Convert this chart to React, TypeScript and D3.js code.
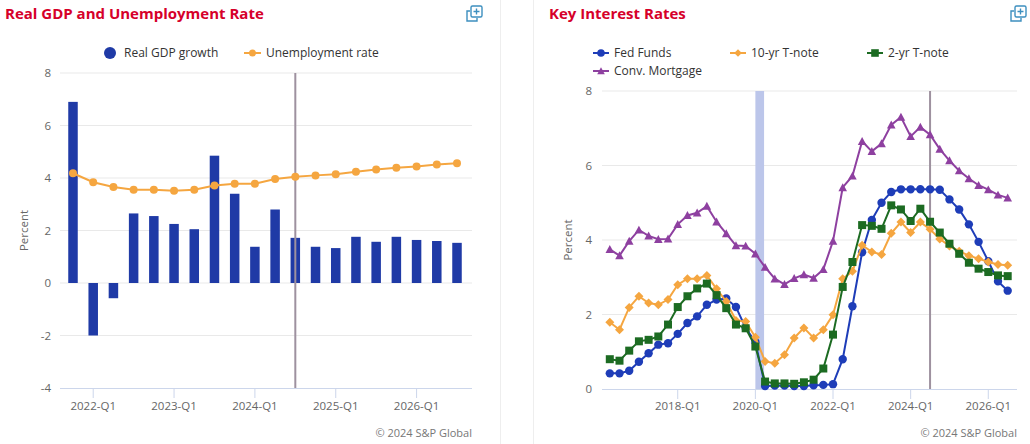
import React from "react";
import * as d3 from "d3";

// ---------- Left chart data ----------
const gdpQuarters = [
  "2021-Q4", "2022-Q1", "2022-Q2", "2022-Q3", "2022-Q4",
  "2023-Q1", "2023-Q2", "2023-Q3", "2023-Q4",
  "2024-Q1", "2024-Q2", "2024-Q3", "2024-Q4",
  "2025-Q1", "2025-Q2", "2025-Q3", "2025-Q4",
  "2026-Q1", "2026-Q2", "2026-Q3",
];
const gdpGrowth = [6.9, -2.0, -0.58, 2.65, 2.55, 2.25, 2.05, 4.85, 3.4, 1.38, 2.8, 1.72, 1.38, 1.33, 1.76, 1.57, 1.76, 1.64, 1.6, 1.53];
const unemployment = [4.18, 3.84, 3.66, 3.55, 3.55, 3.51, 3.55, 3.71, 3.78, 3.78, 3.96, 4.05, 4.1, 4.14, 4.24, 4.32, 4.39, 4.44, 4.51, 4.56];
const gdpTickLabels = ["2022-Q1", "2023-Q1", "2024-Q1", "2025-Q1", "2026-Q1"];
const gdpYTicks = [-4, -2, 0, 2, 4, 6, 8];
const gdpForecastStart = "2024-Q3";

// ---------- Right chart data ----------
const rateQuarters = [
  "2016-Q2", "2016-Q3", "2016-Q4",
  "2017-Q1", "2017-Q2", "2017-Q3", "2017-Q4",
  "2018-Q1", "2018-Q2", "2018-Q3", "2018-Q4",
  "2019-Q1", "2019-Q2", "2019-Q3", "2019-Q4",
  "2020-Q1", "2020-Q2", "2020-Q3", "2020-Q4",
  "2021-Q1", "2021-Q2", "2021-Q3", "2021-Q4",
  "2022-Q1", "2022-Q2", "2022-Q3", "2022-Q4",
  "2023-Q1", "2023-Q2", "2023-Q3", "2023-Q4",
  "2024-Q1", "2024-Q2", "2024-Q3", "2024-Q4",
  "2025-Q1", "2025-Q2", "2025-Q3", "2025-Q4",
  "2026-Q1", "2026-Q2", "2026-Q3",
];
const fedFunds = [0.42, 0.42, 0.49, 0.73, 0.96, 1.19, 1.23, 1.48, 1.77, 1.95, 2.26, 2.4, 2.43, 2.2, 1.64, 1.26, 0.08, 0.09, 0.09, 0.08, 0.08, 0.1, 0.11, 0.13, 0.8, 2.22, 3.67, 4.54, 5.0, 5.29, 5.36, 5.36, 5.36, 5.36, 5.35, 5.09, 4.82, 4.42, 3.95, 3.43, 2.89, 2.64];
const tenYear = [1.79, 1.59, 2.19, 2.49, 2.31, 2.26, 2.4, 2.8, 2.96, 2.96, 3.05, 2.69, 2.35, 1.84, 1.81, 1.39, 0.74, 0.69, 0.92, 1.37, 1.64, 1.37, 1.59, 1.99, 2.96, 3.16, 3.86, 3.68, 3.61, 4.18, 4.48, 4.2, 4.48, 4.29, 4.03, 3.84, 3.7, 3.58, 3.5, 3.41, 3.34, 3.32];
const twoYear = [0.8, 0.76, 1.03, 1.28, 1.32, 1.41, 1.73, 2.2, 2.49, 2.7, 2.83, 2.52, 2.17, 1.73, 1.63, 1.14, 0.2, 0.15, 0.15, 0.14, 0.18, 0.25, 0.55, 1.46, 2.74, 3.41, 4.4, 4.38, 4.3, 4.93, 4.82, 4.51, 4.84, 4.49, 4.2, 3.9, 3.63, 3.39, 3.23, 3.14, 3.05, 3.03];
const mortgage = [3.75, 3.58, 3.97, 4.27, 4.11, 4.02, 4.03, 4.42, 4.66, 4.73, 4.91, 4.49, 4.17, 3.85, 3.84, 3.63, 3.27, 2.96, 2.81, 2.97, 3.07, 2.98, 3.21, 3.97, 5.41, 5.72, 6.65, 6.38, 6.59, 7.09, 7.3, 6.78, 7.03, 6.83, 6.44, 6.13, 5.86, 5.65, 5.47, 5.35, 5.21, 5.13];
const rateTickLabels = ["2018-Q1", "2020-Q1", "2022-Q1", "2024-Q1", "2026-Q1"];
const rateYTicks = [0, 2, 4, 6, 8];
const recessionStart = "2020-Q1";
const recessionEnd = "2020-Q2";
const rateForecastStart = "2024-Q3";

// ---------- Style ----------
const FONT = "'Open Sans', 'Noto Sans', sans-serif";
const RED = "#d6002a";
const BAR_BLUE = "#1f3aa6";
const ORANGE = "#f5a640";
const FED_BLUE = "#1e3db8";
const GREEN = "#1c6b22";
const PURPLE = "#8e40a0";
const GRID = "#e9e9e9";
const AXIS = "#ccd6eb";
const LABEL = "#666666";
const VLINE = "#9e919f";

type Marker = "circle" | "diamond" | "square" | "triangle";

function markerPath(kind: Marker, cx: number, cy: number, r: number): string {
  if (kind === "circle") {
    const p = d3.path();
    p.arc(cx, cy, r, 0, Math.PI * 2);
    return p.toString();
  }
  if (kind === "square") {
    return `M${cx - r},${cy - r}h${2 * r}v${2 * r}h${-2 * r}Z`;
  }
  if (kind === "diamond") {
    return `M${cx},${cy - r}L${cx + r},${cy}L${cx},${cy + r}L${cx - r},${cy}Z`;
  }
  return `M${cx},${cy - r}L${cx + r},${cy + r * 0.85}L${cx - r},${cy + r * 0.85}Z`;
}

function ExpandIcon({ x, y }: { x: number; y: number }) {
  const c = "#3d8fbf";
  return (
    <g fill="none" stroke={c} strokeWidth={1.4}>
      <path d={`M${x + 3},${y + 6} H${x} V${y + 16} H${x + 10} V${y + 13}`} />
      <rect x={x + 4} y={y + 1} width={11} height={11} rx={1.5} />
      <path d={`M${x + 9.5},${y + 3.5} V${y + 9.5} M${x + 6.5},${y + 6.5} H${x + 12.5}`} />
    </g>
  );
}

function GdpChart() {
  const left = 60, right = 472, top = 73, bottom = 388;
  const x = d3.scalePoint<string>().domain(gdpQuarters).range([73, 457]);
  const y = d3.scaleLinear().domain([-4, 8]).range([bottom, top]);
  const barW = 9.5;
  const line = d3
    .line<number>()
    .x((_, i) => x(gdpQuarters[i])!)
    .y((d) => y(d));
  const fx = x(gdpForecastStart)!;
  return (
    <g fontFamily={FONT}>
      <text x={5} y={19} fontSize={15} fontWeight={700} fill={RED}>
        Real GDP and Unemployment Rate
      </text>
      <ExpandIcon x={467} y={5} />
      {/* legend */}
      <circle cx={110} cy={53} r={6} fill={BAR_BLUE} />
      <text x={124} y={57} fontSize={12} fill="#333">Real GDP growth</text>
      <line x1={244} x2={261} y1={53} y2={53} stroke={ORANGE} strokeWidth={2} />
      <circle cx={252.5} cy={53} r={3.5} fill={ORANGE} />
      <text x={266} y={57} fontSize={12} fill="#333">Unemployment rate</text>
      {/* grid */}
      {gdpYTicks.map((t) => (
        <g key={t}>
          {t !== -4 && (
            <line x1={left} x2={right} y1={y(t)} y2={y(t)} stroke={GRID} strokeWidth={1} />
          )}
          <text x={51} y={y(t) + 4} fontSize={11.5} fill={LABEL} textAnchor="end">
            {t}
          </text>
        </g>
      ))}
      <text
        transform={`translate(28,${(top + bottom) / 2}) rotate(-90)`}
        fontSize={11.5}
        fill={LABEL}
        textAnchor="middle"
      >
        Percent
      </text>
      {/* x axis */}
      <line x1={left} x2={right} y1={bottom + 0.5} y2={bottom + 0.5} stroke={AXIS} strokeWidth={1} />
      {gdpTickLabels.map((lab) => (
        <g key={lab}>
          <line x1={x(lab)} x2={x(lab)} y1={bottom} y2={bottom + 10} stroke={AXIS} strokeWidth={1} />
          <text x={x(lab)} y={410} fontSize={11.5} fill={LABEL} textAnchor="middle">
            {lab}
          </text>
        </g>
      ))}
      {/* bars */}
      {gdpGrowth.map((v, i) => {
        const cx = x(gdpQuarters[i])!;
        const y0 = y(0), y1 = y(v);
        return (
          <rect
            key={i}
            x={cx - barW / 2}
            y={Math.min(y0, y1)}
            width={barW}
            height={Math.abs(y1 - y0)}
            fill={BAR_BLUE}
          />
        );
      })}
      {/* forecast line */}
      <line x1={fx} x2={fx} y1={top} y2={bottom} stroke={VLINE} strokeWidth={2} />
      {/* unemployment */}
      <path d={line(unemployment) || ""} fill="none" stroke={ORANGE} strokeWidth={2} />
      {unemployment.map((v, i) => (
        <circle key={i} cx={x(gdpQuarters[i])} cy={y(v)} r={4} fill={ORANGE} />
      ))}
      <text x={right} y={437} fontSize={11} fill="#777" textAnchor="end">
        © 2024 S&amp;P Global
      </text>
    </g>
  );
}

function RatesChart() {
  const left = 602, right = 1017, top = 91, bottom = 389;
  const x = d3.scalePoint<string>().domain(rateQuarters).range([609.8, 1007.7]);
  const step = x.step();
  const y = d3.scaleLinear().domain([0, 8]).range([bottom, top]);
  const series: { name: string; data: number[]; color: string; marker: Marker; r: number }[] = [
    { name: "Fed Funds", data: fedFunds, color: FED_BLUE, marker: "circle", r: 4.2 },
    { name: "10-yr T-note", data: tenYear, color: ORANGE, marker: "diamond", r: 4.5 },
    { name: "2-yr T-note", data: twoYear, color: GREEN, marker: "square", r: 4 },
    { name: "Conv. Mortgage", data: mortgage, color: PURPLE, marker: "triangle", r: 4.3 },
  ];
  const legendPos = [
    { x: 601, y: 53 },
    { x: 738, y: 53 },
    { x: 875, y: 53 },
    { x: 601, y: 71 },
  ];
  const fx = x(rateForecastStart)!;
  const bx0 = x(recessionStart)!;
  const bx1 = x(recessionEnd)!;
  return (
    <g fontFamily={FONT}>
      <text x={549} y={19} fontSize={15} fontWeight={700} fill={RED}>
        Key Interest Rates
      </text>
      <ExpandIcon x={1011} y={5} />
      {/* legend */}
      {series.map((s, i) => (
        <g key={s.name}>
          <line
            x1={legendPos[i].x - 8}
            x2={legendPos[i].x + 8}
            y1={legendPos[i].y}
            y2={legendPos[i].y}
            stroke={s.color}
            strokeWidth={2}
          />
          <path d={markerPath(s.marker, legendPos[i].x, legendPos[i].y, 3.8)} fill={s.color} />
          <text x={legendPos[i].x + 13} y={legendPos[i].y + 4} fontSize={12} fill="#333">
            {s.name}
          </text>
        </g>
      ))}
      {/* grid */}
      {rateYTicks.map((t) => (
        <g key={t}>
          {t !== 0 && (
            <line x1={left} x2={right} y1={y(t)} y2={y(t)} stroke={GRID} strokeWidth={1} />
          )}
          <text x={592} y={y(t) + 4} fontSize={11.5} fill={LABEL} textAnchor="end">
            {t}
          </text>
        </g>
      ))}
      <text
        transform={`translate(572,${(top + bottom) / 2}) rotate(-90)`}
        fontSize={11.5}
        fill={LABEL}
        textAnchor="middle"
      >
        Percent
      </text>
      {/* recession band */}
      <rect x={bx0} y={top} width={bx1 - bx0 - 1} height={bottom - top} fill="#bcc6ea" />
      {/* x axis */}
      <line x1={left} x2={right} y1={bottom + 0.5} y2={bottom + 0.5} stroke={AXIS} strokeWidth={1} />
      {rateTickLabels.map((lab) => (
        <g key={lab}>
          <line x1={x(lab)} x2={x(lab)} y1={bottom} y2={bottom + 10} stroke={AXIS} strokeWidth={1} />
          <text x={x(lab)} y={410} fontSize={11.5} fill={LABEL} textAnchor="middle">
            {lab}
          </text>
        </g>
      ))}
      {/* forecast line */}
      <line x1={fx} x2={fx} y1={top} y2={bottom} stroke={VLINE} strokeWidth={2} />
      {/* series */}
      {series.map((s) => {
        const line = d3
          .line<number>()
          .x((_, i) => x(rateQuarters[i])!)
          .y((d) => y(d));
        return (
          <g key={s.name}>
            <path d={line(s.data) || ""} fill="none" stroke={s.color} strokeWidth={2} />
            {s.data.map((v, i) => (
              <path key={i} d={markerPath(s.marker, x(rateQuarters[i])!, y(v), s.r)} fill={s.color} />
            ))}
          </g>
        );
      })}
      <text x={right} y={437} fontSize={11} fill="#777" textAnchor="end">
        © 2024 S&amp;P Global
      </text>
      {step < 0 ? null : null}
    </g>
  );
}

export default function App() {
  return (
    <svg
      width={1030}
      height={444}
      viewBox="0 0 1030 444"
      style={{ position: "absolute", left: 0, top: 0, background: "#fff" }}
    >
      <rect x={0} y={0} width={1030} height={444} fill="#fff" />
      <line x1={500.5} x2={500.5} y1={0} y2={444} stroke="#eeeeee" strokeWidth={1} />
      <line x1={533.5} x2={533.5} y1={0} y2={444} stroke="#eeeeee" strokeWidth={1} />
      <GdpChart />
      <RatesChart />
    </svg>
  );
}
